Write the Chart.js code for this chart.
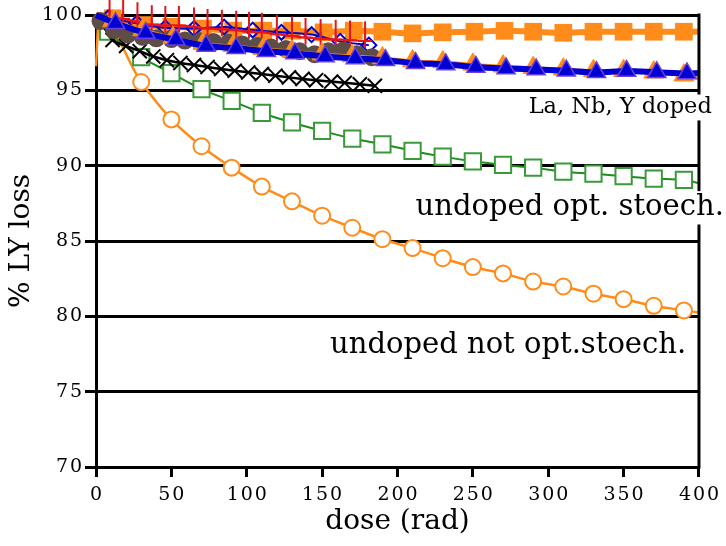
<!DOCTYPE html>
<html>
<head>
<meta charset="utf-8">
<script src="https://cdn.jsdelivr.net/npm/chart.js@4"></script>
<style>
  body { margin: 0; background: #fff; }
</style>
</head>
<body>
<canvas id="lyChart" width="726" height="546"></canvas>
<script>
// undoped, not optimised stoechiometry (orange open circles)
const circX = [0, 2, 30, 50, 70, 90, 110, 130, 150, 170, 190, 210, 230, 250, 270, 290, 310, 330, 350, 370, 390, 400];
const circY = [96.6, 99.9, 95.55, 93.07, 91.29, 89.87, 88.61, 87.63, 86.68, 85.88, 85.12, 84.53, 83.86, 83.27, 82.85, 82.31, 81.98, 81.5, 81.14, 80.7, 80.39, 80.25];

// undoped, optimised stoechiometry (green open squares)
const sqX = [0, 8, 30, 50, 70, 90, 110, 130, 150, 170, 190, 210, 230, 250, 270, 290, 310, 330, 350, 370, 390, 400];
const sqY = [100, 98.9, 97.2, 96.14, 95.08, 94.3, 93.5, 92.87, 92.31, 91.8, 91.42, 90.98, 90.6, 90.29, 90.05, 89.87, 89.6, 89.47, 89.3, 89.14, 89.05, 88.85];

// doped samples
const crossX = [4, 11, 20, 29, 38, 47, 56, 65, 74, 83, 92, 101, 110, 119, 128, 137, 146, 156, 165, 175, 185];
const crossY = [99.4, 98.34, 97.95, 97.6, 97.25, 97.0, 96.82, 96.68, 96.55, 96.42, 96.3, 96.19, 96.08, 95.97, 95.86, 95.76, 95.67, 95.58, 95.5, 95.4, 95.3];

const greyX = [3, 12, 21, 31, 40, 50, 59, 69, 78, 88, 97, 107, 116, 126, 135, 145, 154, 164, 173, 183];
const greyY = [99.6, 99.0, 98.7, 98.55, 98.45, 98.4, 98.3, 98.25, 98.2, 98.15, 98.05, 97.95, 97.85, 97.75, 97.6, 97.4, 97.6, 97.65, 97.4, 97.2];

const redX = [9, 18, 27.5, 37, 46, 55, 65, 74, 83.5, 93, 101.5, 110, 120, 130, 139, 149, 159, 168.5, 178.5];
const redY = [99.9, 99.75, 99.55, 99.35, 99.3, 99.3, 99.2, 99.1, 99.05, 98.98, 98.9, 98.85, 98.72, 98.6, 98.5, 98.43, 98.38, 98.33, 98.28];
const redErr = [1.3, 1.3, 1.3, 1.3, 1.3, 1.3, 1.3, 1.3, 1.3, 1.3, 1.3, 1.3, 1.3, 1.3, 1.3, 1.3, 1.3, 1.3, 1.3];

const diaX = [0, 8, 27, 46, 65, 85, 104, 123, 143, 162, 181];
const diaY = [100, 99.8, 99.45, 99.15, 99.1, 99.2, 99.0, 98.85, 98.7, 98.25, 98.0];

const triX = [0, 13, 33, 53, 73, 93, 113, 132, 152, 172, 192, 212, 232, 252, 272, 292, 312, 332, 352, 372, 392, 400];
const triY = [100, 99.45, 98.8, 98.35, 97.95, 97.8, 97.6, 97.45, 97.25, 97.12, 97.0, 96.8, 96.72, 96.55, 96.45, 96.38, 96.3, 96.2, 96.28, 96.2, 96.12, 96.15];

const oTriX = [0, 11, 31, 51, 71, 91, 111, 130, 150, 170, 190, 210, 230, 250, 270, 290, 310, 330, 350, 370, 390, 400];
const oTriY = [100, 99.6, 99.0, 98.5, 98.1, 97.95, 97.75, 97.6, 97.4, 97.28, 97.15, 96.95, 96.88, 96.72, 96.6, 96.5, 96.4, 96.3, 96.3, 96.2, 96.0, 95.8];

const osqX = [0, 11, 31, 50, 71, 91, 111, 130, 151, 171, 190, 210, 230, 251, 271, 290, 310, 330, 350, 370, 390, 400];
const osqY = [100, 99.78, 99.33, 99.22, 99.1, 98.96, 98.96, 98.96, 98.85, 98.96, 98.89, 98.78, 98.85, 98.89, 98.95, 98.89, 98.82, 98.89, 98.89, 98.89, 98.89, 98.9];

const xTicks = [0, 50, 100, 150, 200, 250, 300, 350, 400];
const yTicks = [70, 75, 80, 85, 90, 95, 100];

const ORANGE = '#ff8c1a';
const GREEN = '#1e8c1e';
const RED = '#e8141a';
const BLUE = '#0000d2';
const GREY = '#5e4d47';

function pts(xs, ys) {
  return xs.map((v, i) => ({ x: v, y: ys[i] }));
}
// no marker on the first / last helper points
function radii(xs, r, skipFirst, skipLast) {
  return xs.map((v, i) => ((skipFirst && i < skipFirst) || (skipLast && i >= xs.length - skipLast)) ? 0 : r);
}
function spaced(v) {
  return String(v).split('').join('\u200a');
}

Chart.defaults.font.family = 'DejaVu Serif';
Chart.defaults.color = '#000';

// red error bars, right frame line and the text labels
const extras = {
  id: 'extras',
  afterDatasetsDraw(chart) {
    const { ctx, chartArea: a, scales: { x, y } } = chart;
    ctx.save();
    ctx.strokeStyle = RED;
    ctx.lineWidth = 2;
    redX.forEach((v, i) => {
      const px = x.getPixelForValue(v);
      ctx.beginPath();
      ctx.moveTo(px, y.getPixelForValue(redY[i]));
      ctx.lineTo(px, y.getPixelForValue(redY[i] + redErr[i]));
      ctx.stroke();
    });
    ctx.strokeStyle = '#000';
    ctx.lineWidth = 3;
    ctx.beginPath();
    ctx.moveTo(a.right, a.top - 1.5);
    ctx.lineTo(a.right, a.bottom + 1.5);
    ctx.stroke();
    ctx.restore();
  },
  afterDraw(chart) {
    const { ctx, scales: { x, y } } = chart;
    const labels = [
      { text: 'La, Nb, Y doped', x: 408.5, y: 93.9, size: 22.5 },
      { text: 'undoped opt. stoech.', x: 416.5, y: 87.25, size: 29 },
      { text: 'undoped not opt.stoech.', x: 391.5, y: 78.05, size: 29 }
    ];
    ctx.save();
    ctx.textAlign = 'right';
    ctx.textBaseline = 'middle';
    labels.forEach(l => {
      ctx.font = l.size + 'px "DejaVu Serif"';
      const px = x.getPixelForValue(l.x);
      const py = y.getPixelForValue(l.y);
      const w = ctx.measureText(l.text).width;
      ctx.fillStyle = '#fff';
      ctx.fillRect(px - w - 3, py - l.size * 0.55, w + 6, l.size * 1.15);
      ctx.fillStyle = '#000';
      ctx.fillText(l.text, px, py);
    });
    ctx.restore();
  }
};

new Chart(document.getElementById('lyChart'), {
  type: 'line',
  data: {
    datasets: [
      {
        data: pts(triX, triY), order: 1,
        borderColor: BLUE, borderWidth: 6,
        pointStyle: 'triangle', pointRadius: radii(triX, 10.5, 1, 1),
        pointBackgroundColor: BLUE, pointBorderColor: '#6a3ee0', pointBorderWidth: 1.5
      },
      {
        data: pts(oTriX, oTriY), order: 2,
        borderColor: ORANGE, borderWidth: 3,
        pointStyle: 'triangle', pointRadius: radii(oTriX, 11.5, 1, 1),
        pointBackgroundColor: ORANGE, pointBorderColor: ORANGE, pointBorderWidth: 1
      },
      {
        data: pts(greyX, greyY), order: 3,
        borderColor: GREY, borderWidth: 2,
        pointStyle: 'circle', pointRadius: 9,
        pointBackgroundColor: GREY, pointBorderColor: GREY, pointBorderWidth: 0
      },
      {
        data: pts(redX, redY), order: 4,
        borderColor: RED, borderWidth: 2,
        pointStyle: 'cross', pointRadius: 7,
        pointBorderColor: RED, pointBorderWidth: 2
      },
      {
        data: pts(diaX, diaY), order: 5,
        borderColor: BLUE, borderWidth: 2,
        pointStyle: 'rectRot', pointRadius: radii(diaX, 7.5, 1, 0),
        pointBackgroundColor: 'rgba(255,255,255,0)', pointBorderColor: BLUE, pointBorderWidth: 2
      },
      {
        data: pts(osqX, osqY), order: 6,
        borderColor: ORANGE, borderWidth: 6,
        pointStyle: 'rect', pointRadius: radii(osqX, 12.5, 1, 1),
        pointBackgroundColor: ORANGE, pointBorderColor: ORANGE, pointBorderWidth: 0
      },
      {
        data: pts(crossX, crossY), order: 7,
        borderColor: '#000', borderWidth: 2.5,
        pointStyle: 'crossRot', pointRadius: radii(crossX, 10, 1, 0),
        pointBorderColor: '#000', pointBorderWidth: 2
      },
      {
        data: pts(sqX, sqY), order: 8,
        borderColor: GREEN, borderWidth: 2,
        pointStyle: 'rect', pointRadius: radii(sqX, 11.5, 1, 1),
        pointBackgroundColor: '#fff', pointBorderColor: '#3a9a3a', pointBorderWidth: 2
      },
      {
        data: pts(circX, circY), order: 9,
        borderColor: ORANGE, borderWidth: 2.5,
        pointStyle: 'circle', pointRadius: radii(circX, 8, 2, 1),
        pointBackgroundColor: '#fff', pointBorderColor: ORANGE, pointBorderWidth: 2
      }
    ]
  },
  options: {
    responsive: false,
    animation: false,
    clip: false,
    cubicInterpolationMode: 'monotone',
    layout: { padding: { top: 15, right: 23, left: 0, bottom: 0 } },
    plugins: {
      legend: { display: false },
      tooltip: { enabled: false }
    },
    elements: { point: { hoverRadius: 0 } },
    scales: {
      x: {
        type: 'linear', min: 0, max: 400,
        afterBuildTicks: s => { s.ticks = xTicks.map(v => ({ value: v })); },
        afterFit: s => { s.height = 79; },
        border: { color: '#000', width: 3 },
        grid: { drawOnChartArea: false, drawTicks: true, tickLength: 10, color: '#000', lineWidth: 3 },
        ticks: { font: { size: 19 }, padding: 7, maxRotation: 0, callback: v => spaced(v) },
        title: { display: true, text: 'dose (rad)', font: { size: 28 }, padding: { top: 0, bottom: 7 } }
      },
      y: {
        min: 70, max: 100,
        afterBuildTicks: s => { s.ticks = yTicks.map(v => ({ value: v })); },
        afterFit: s => { s.width = 96; },
        border: { color: '#000', width: 3 },
        grid: { color: '#000', lineWidth: 3, tickLength: 11 },
        ticks: { font: { size: 19 }, padding: 3, callback: v => spaced(v) },
        title: { display: true, text: '% LY loss', font: { size: 28 }, padding: { top: 5, bottom: 0 } }
      }
    }
  },
  plugins: [extras]
});
</script>
</body>
</html>
